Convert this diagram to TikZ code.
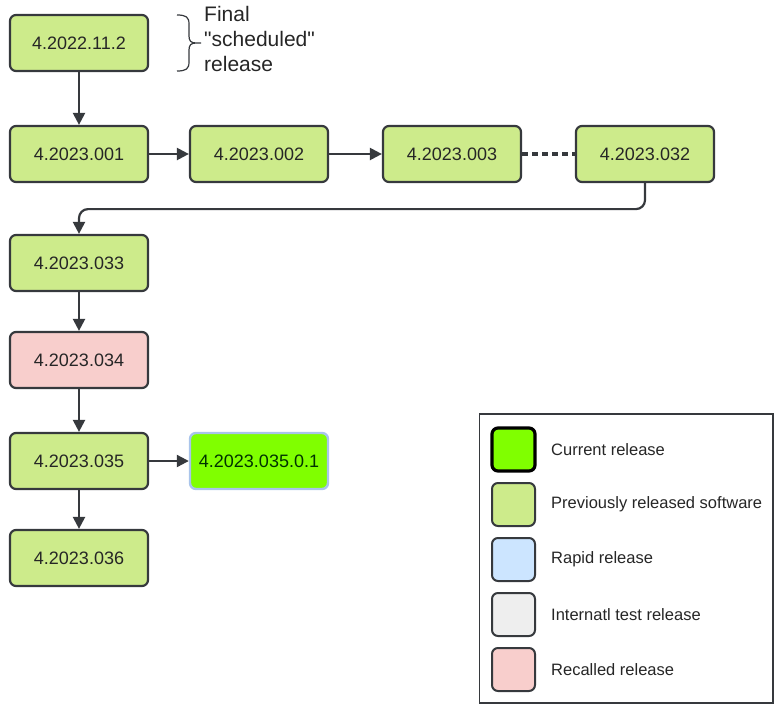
\documentclass[tikz,border=0pt]{standalone}
\usepackage{fontspec}
\setmainfont{Liberation Sans}[Ligatures=TeXOff]
\usetikzlibrary{arrows.meta,positioning}
\definecolor{linec}{HTML}{36393D}
\definecolor{prevgreen}{HTML}{CDEB8B}
\definecolor{recallred}{HTML}{F8CECC}
\definecolor{curgreen}{HTML}{80FF00}
\definecolor{rapidblue}{HTML}{CCE5FF}
\definecolor{testgrey}{HTML}{EEEEEE}
\definecolor{glowblue}{HTML}{A9C4EB}
\definecolor{textc}{HTML}{262626}
\tikzset{
  rel/.style={draw=linec, line width=2.2pt, rounded corners=6pt, fill=prevgreen,
    minimum width=138pt, minimum height=56pt, inner sep=0pt, text=textc,
    font=\fontsize{18}{20}\selectfont},
  recalled/.style={rel, fill=recallred},
  current/.style={rel, fill=curgreen, draw=glowblue, line width=2.4pt, text=black!80!green},
  arr/.style={draw=linec, line width=2.2pt, -{Triangle[length=12pt,width=12pt]}},
  swatch/.style={draw=linec, line width=2pt, rounded corners=6pt,
    minimum width=43pt, minimum height=43pt, inner sep=0pt},
  legtext/.style={anchor=west, inner sep=0pt, text=textc, font=\fontsize{16.5}{18}\selectfont},
  note/.style={anchor=north west, align=left, inner sep=0pt, text=textc,
    font=\fontsize{21}{25}\selectfont}
}
\begin{document}
\begin{tikzpicture}[x=1pt,y=-1pt]
\useasboundingbox (0,0) rectangle (774,704);
% release chain
\node[rel] (n1122) at (79,43) {4.2022.11.2};
\node[rel] (n001) at (79,154) {4.2023.001};
\node[rel] (n002) at (259,154) {4.2023.002};
\node[rel] (n003) at (452,154) {4.2023.003};
\node[rel] (n032) at (645,154) {4.2023.032};
\node[rel] (n033) at (79,263) {4.2023.033};
\node[recalled] (n034) at (79,360) {4.2023.034};
\node[rel] (n035) at (79,461) {4.2023.035};
\node[current] (n0351) at (259,461) {4.2023.035.0.1};
\node[rel] (n036) at (79,558) {4.2023.036};
% connectors
\draw[arr] (n1122) -- (n001);
\draw[arr] (n001) -- (n002);
\draw[arr] (n002) -- (n003);
\draw[draw=linec, line width=4.5pt, dash pattern=on 6pt off 4pt] (n003.east) -- (n032.west);
\draw[arr, rounded corners=9pt] (n032.south) -- ++(0,26) -| (n033.north);
\draw[arr] (n033) -- (n034);
\draw[arr] (n034) -- (n035);
\draw[arr] (n035) -- (n036);
\draw[arr] (n035) -- (n0351);
% brace annotation
\draw[linec, line width=1.2pt] (177,15) .. controls (186,15) and (189,17) .. (189,24)
  -- (189,36) .. controls (189,41) and (191,43) .. (196,43) -- (201,43)
  (196,43) .. controls (191,43) and (189,45) .. (189,50)
  -- (189,62) .. controls (189,69) and (186,71) .. (177,71);
\node[note] (annot) at (204,6) {Final\\"scheduled"\\release};
% legend
\draw[linec, line width=1.3pt] (479.5,414) rectangle (773,703);
\node[swatch, fill=curgreen, draw=black, line width=3.2pt] (s1) at (513.5,449.5) {};
\node[swatch, fill=prevgreen] (s2) at (513.5,504.5) {};
\node[swatch, fill=rapidblue] (s3) at (513.5,559.5) {};
\node[swatch, fill=testgrey] (s4) at (513.5,614.5) {};
\node[swatch, fill=recallred] (s5) at (513.5,669.5) {};
\node[legtext] (l1) at (551,449.5) {Current release};
\node[legtext] (l2) at (551,504.5) {Previously released software};
\node[legtext] (l3) at (551,559.5) {Rapid release};
\node[legtext] (l4) at (551,614.5) {Internatl test release};
\node[legtext] (l5) at (551,669.5) {Recalled release};
\end{tikzpicture}
\end{document}
